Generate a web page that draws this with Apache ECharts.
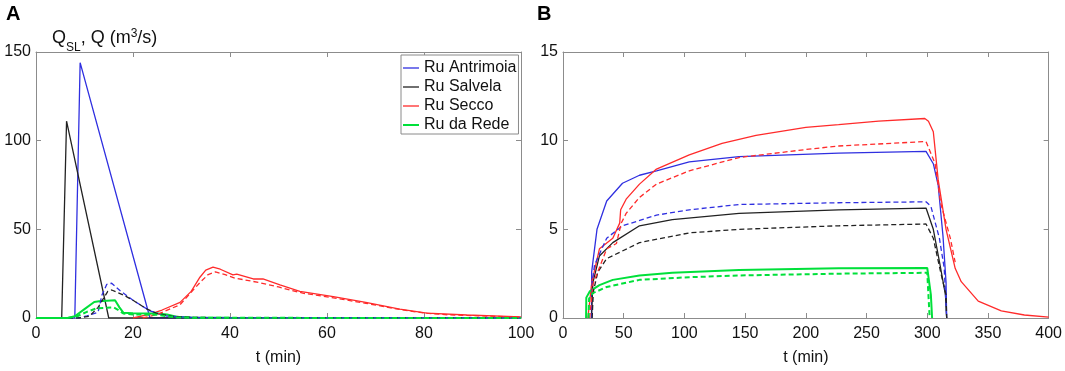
<!DOCTYPE html>
<html>
<head>
<meta charset="utf-8">
<script src="https://cdn.jsdelivr.net/npm/echarts@6/dist/echarts.min.js"></script>
<style>
  html, body { margin: 0; padding: 0; background: #fff; }
  #container { width: 1065px; height: 371px; }
</style>
</head>
<body>
<div id="container"></div>
<script>
var dom = document.getElementById('container');
var myChart = echarts.init(dom, null, { renderer: 'canvas' });

// ---- data (t in min, value in m3/s) ----
// Panel A: solid = Q_SL, dashed = Q
var aAntrimoiaSL = [[0,0],[8,0],[9.1,144],[23.5,0],[100,0]];
var aSalvelaSL = [[0,0],[5.3,0],[6.3,111],[15,0],[100,0]];
var aSeccoSL = [[20,0],[23.5,2.2],[26,4.5],[29.7,8.8],[32,15],[33.8,23],[35,27],[36.5,28.7],[38,27.5],[40.6,24.3],[41.4,24.8],[43,23.5],[44.8,22],[46.8,22],[50.3,18.7],[54.4,15],[61.3,12.1],[68,8.8],[75,5],[80.6,2.8],[88.8,1.7],[100,0.6]];
var aRedeSL = [[0,0],[6.5,0],[8,1],[10,5],[12,9],[13,9.5],[16.3,10],[17.2,6],[18,3],[20,2.7],[25,2.5],[27,2],[29,0.7],[32,0.3],[40,0.1],[100,0]];
var aAntrimoiaQ = [[0,0],[8.7,0],[10.5,1.2],[12.8,3.3],[13.6,13],[14.6,19],[15.6,19.6],[17.3,15.5],[20,10],[23.5,4],[27,1.1],[32,0.3],[40,0.1],[100,0]];
var aSalvelaQ = [[0,0],[9,0],[11,1],[12.8,6],[14.8,15],[15.6,15.8],[18,13],[20,10],[22.9,5],[25,2.5],[28,1],[32,0.4],[40,0.1],[100,0]];
var aSeccoQ = [[22,0],[25,2],[29.7,7.5],[33.8,20],[35.5,24.5],[37,26],[39,24.5],[41,22.5],[43,21.5],[46,20],[50,17.5],[55,14],[61,11.5],[68,8.3],[75,4.8],[80,2.8],[85,1.8],[100,0.5]];
var aRedeQ = [[0,0],[6.5,0],[8.5,1],[10.5,3.5],[12.5,5.5],[16,6],[17,4.5],[18,2.5],[20,2],[25,1.8],[27,1],[29,0.3],[35,0.1],[100,0]];

// Panel B
var bAntrimoiaSL = [[23.5,0],[23.6,2.6],[28,5],[36,6.6],[49,7.6],[63,8.05],[77,8.3],[104,8.8],[145,9.1],[227,9.3],[299,9.4],[305,8.7],[309,7.5],[313,4.6],[315.5,2],[316,0]];
var bSalvelaSL = [[23.5,0],[24.6,2],[30,3.5],[41,4.25],[63,5.2],[90,5.55],[145,5.9],[227,6.1],[299,6.2],[305,5],[310,3.2],[315,1.3],[316,0]];
var bSeccoSL = [[20.5,0],[23.7,2],[30,3.9],[41,4.5],[46.7,5.35],[47.5,6.1],[52,6.7],[63,7.55],[77,8.4],[104,9.2],[131,9.85],[159,10.3],[200,10.75],[227,10.9],[260,11.1],[298,11.25],[301,11.1],[305,10.5],[309,7.8],[315.5,5],[323,2.8],[328,2.05],[342,0.95],[361,0.4],[380,0.17],[400,0.05]];
var bRedeSL = [[19,0],[19.2,1.15],[22,1.5],[30,1.85],[41,2.15],[63,2.4],[90,2.55],[145,2.7],[227,2.8],[300,2.82],[303,1.3],[304,0]];
var bAntrimoiaQ = [[23.5,0],[24,2],[26,3],[36,4.5],[49,5.2],[77,5.8],[104,6.1],[145,6.4],[227,6.5],[299,6.55],[303,6.3],[310,4.5],[314,2.8],[316,0]];
var bSalvelaQ = [[24,0],[25,1.5],[28.7,2.6],[36,3.35],[63,4.25],[104,4.8],[145,5],[227,5.2],[299,5.3],[305,4.5],[311,2.6],[315.5,1.3],[316,0]];
var bSeccoQ = [[22,0],[24.6,1.9],[36,3.9],[44,4.2],[48,5.35],[52,5.9],[63,6.8],[77,7.55],[104,8.3],[145,9.05],[200,9.5],[227,9.7],[299,9.95],[306.5,8.7],[311,6.5],[319,4.5],[323,3.15]];
var bRedeQ = [[21,0],[21.5,1.1],[24.6,1.4],[36,1.75],[63,2.15],[104,2.3],[145,2.4],[227,2.5],[300,2.55],[302,0]];

var names = ['Ru Antrimoia', 'Ru Salvela', 'Ru Secco', 'Ru da Rede'];
var colors = ['#2f2fe0', '#222222', '#ff2b2b', '#00e03a'];
var widths = [1.3, 1.3, 1.3, 2];

var axisGray = '#8c8c8c';
var font = 'Liberation Sans, Arial, sans-serif';

function xAx(gi, max, interval, top) {
  return {
    type: 'value', gridIndex: gi, min: 0, max: max, interval: interval,
    position: top ? 'top' : 'bottom',
    name: top ? '' : 't (min)', nameLocation: 'middle', nameGap: 32,
    nameTextStyle: { fontFamily: font, fontSize: 16, color: '#111' },
    axisLine: { show: true, onZero: false, lineStyle: { color: axisGray, width: 1 } },
    axisTick: { show: true, inside: true, length: 5, lineStyle: { color: axisGray } },
    axisLabel: { show: !top, fontFamily: font, fontSize: 16, color: '#111', margin: 8 },
    splitLine: { show: false }
  };
}
function yAx(gi, max, interval, right) {
  return {
    type: 'value', gridIndex: gi, min: 0, max: max, interval: interval,
    position: right ? 'right' : 'left',
    axisLine: { show: true, onZero: false, lineStyle: { color: axisGray, width: 1 } },
    axisTick: { show: true, inside: true, length: 5, lineStyle: { color: axisGray } },
    axisLabel: { show: !right, fontFamily: font, fontSize: 16, color: '#111', margin: 5 },
    splitLine: { show: false }
  };
}
function line(name, data, k, dashed, gi) {
  return {
    name: name, type: 'line', data: data,
    xAxisIndex: gi * 2, yAxisIndex: gi * 2,
    symbol: 'none', animation: false, clip: true,
    lineStyle: { color: colors[k], width: widths[k], type: dashed ? [5, 3] : 'solid' },
    itemStyle: { color: colors[k] }
  };
}

var series = [
  line(names[0], aAntrimoiaSL, 0, false, 0),
  line(names[1], aSalvelaSL, 1, false, 0),
  line(names[2], aSeccoSL, 2, false, 0),
  line(names[3], aRedeSL, 3, false, 0),
  line('A Q 1', aAntrimoiaQ, 0, true, 0),
  line('A Q 2', aSalvelaQ, 1, true, 0),
  line('A Q 3', aSeccoQ, 2, true, 0),
  line('A Q 4', aRedeQ, 3, true, 0),
  line('B SL 1', bAntrimoiaSL, 0, false, 1),
  line('B SL 2', bSalvelaSL, 1, false, 1),
  line('B SL 3', bSeccoSL, 2, false, 1),
  line('B SL 4', bRedeSL, 3, false, 1),
  line('B Q 1', bAntrimoiaQ, 0, true, 1),
  line('B Q 2', bSalvelaQ, 1, true, 1),
  line('B Q 3', bSeccoQ, 2, true, 1),
  line('B Q 4', bRedeQ, 3, true, 1)
];

var thin = 'path://M0,0L16,0L16,1.3L0,1.3Z';
var thick = 'path://M0,0L16,0L16,2L0,2Z';

var option = {
  backgroundColor: '#fff',
  animation: false,
  grid: [
    { left: 36, top: 52, width: 485, height: 272 },
    { left: 563, top: 52, width: 488, height: 272 }
  ],
  xAxis: [xAx(0, 100, 20, false), xAx(0, 100, 20, true), xAx(1, 400, 50, false), xAx(1, 400, 50, true)],
  yAxis: [yAx(0, 150, 50, false), yAx(0, 150, 50, true), yAx(1, 15, 5, false), yAx(1, 15, 5, true)],
  legend: {
    data: [
      { name: names[0], icon: thin },
      { name: names[1], icon: thin },
      { name: names[2], icon: thin },
      { name: names[3], icon: thick }
    ],
    orient: 'vertical', left: 401, top: 55,
    padding: [5, 2, 1, 2], itemGap: 3, itemWidth: 16, itemHeight: 16,
    backgroundColor: '#fff', borderColor: '#8a8a8a', borderWidth: 1, borderRadius: 0,
    textStyle: { fontFamily: font, fontSize: 16, color: '#111' }
  },
  graphic: [
    { type: 'text', left: 6, top: 4, style: { text: 'A', font: 'bold 20px ' + font, fill: '#000' } },
    { type: 'text', left: 537, top: 4, style: { text: 'B', font: 'bold 20px ' + font, fill: '#000' } },
    {
      type: 'text', left: 52, top: 22, z: 100,
      style: {
        text: '{a|Q}{b|SL}{a|, Q (m}{c|3}{a|/s)}',
        rich: {
          a: { fontFamily: font, fontSize: 18, lineHeight: 20, fill: '#111' },
          b: { fontFamily: font, fontSize: 12, lineHeight: 12, fill: '#111', padding: [20, 0, 0, 0] },
          c: { fontFamily: font, fontSize: 12, lineHeight: 12, fill: '#111', padding: [0, 0, 8, 0] }
        }
      }
    }
  ],
  series: series
};

myChart.setOption(option);
window.addEventListener('resize', myChart.resize);
</script>
</body>
</html>
